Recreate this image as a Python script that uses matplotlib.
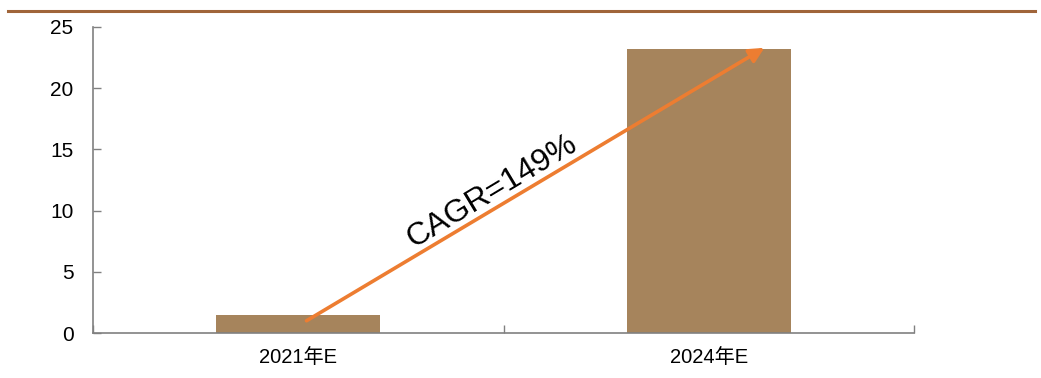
import matplotlib
matplotlib.use('Agg')
import matplotlib.pyplot as plt
from matplotlib.lines import Line2D

plt.rcParams['font.family'] = ['Liberation Sans', 'Noto Sans CJK SC', 'DejaVu Sans']

# ── data ──
categories = ['2021年E', '2024年E']
values = [1.5, 23.2]
cagr_label = 'CAGR=149%'
arrow_start = (0.02, 1.0)
arrow_end = (1.135, 23.3)

BAR_COLOR = '#A6845C'
ARROW_COLOR = '#ED7D31'
SPINE_COLOR = '#808080'
TOP_LINE_COLOR = '#A0653A'

fig = plt.figure(figsize=(10.41, 3.78), dpi=100)
ax = fig.add_axes([0.0893, 0.119, 0.789, 0.8096])

x = list(range(len(categories)))
ax.bar(x, values, width=0.4, color=BAR_COLOR, zorder=2)

ax.set_xlim(-0.5, len(categories) - 0.5)
ax.set_ylim(0, 25)
ax.set_yticks([0, 5, 10, 15, 20, 25])

# category labels at centres, boundary tick marks between them
ax.set_xticks(x)
ax.set_xticklabels(categories, fontsize=14.5)
ax.tick_params(axis='x', which='major', length=0, pad=11)
ax.set_xticks([i - 0.5 for i in range(len(categories) + 1)], minor=True)
ax.tick_params(axis='x', which='minor', direction='in', length=6,
               width=1, color=SPINE_COLOR)
ax.tick_params(axis='y', direction='in', length=6, width=1,
               color=SPINE_COLOR, labelsize=15, pad=14)

for s in ['top', 'right']:
    ax.spines[s].set_visible(False)
for s in ['left', 'bottom']:
    ax.spines[s].set_color(SPINE_COLOR)
    ax.spines[s].set_linewidth(1.2)

# growth arrow + label
ax.annotate('', xy=arrow_end, xytext=arrow_start,
            arrowprops=dict(arrowstyle='-|>', color=ARROW_COLOR, lw=2.6,
                            mutation_scale=22, shrinkA=0, shrinkB=0),
            zorder=3)
ax.text(0.49, 10.5, cagr_label, fontsize=23, rotation=31,
        rotation_mode='anchor', ha='center', va='bottom', zorder=4)

# brown rule across the top
fig.add_artist(Line2D([8 / 1041, 1035 / 1041], [0.972, 0.972],
                      color=TOP_LINE_COLOR, lw=2.2, transform=fig.transFigure))

fig.savefig('out.png', dpi=100)
